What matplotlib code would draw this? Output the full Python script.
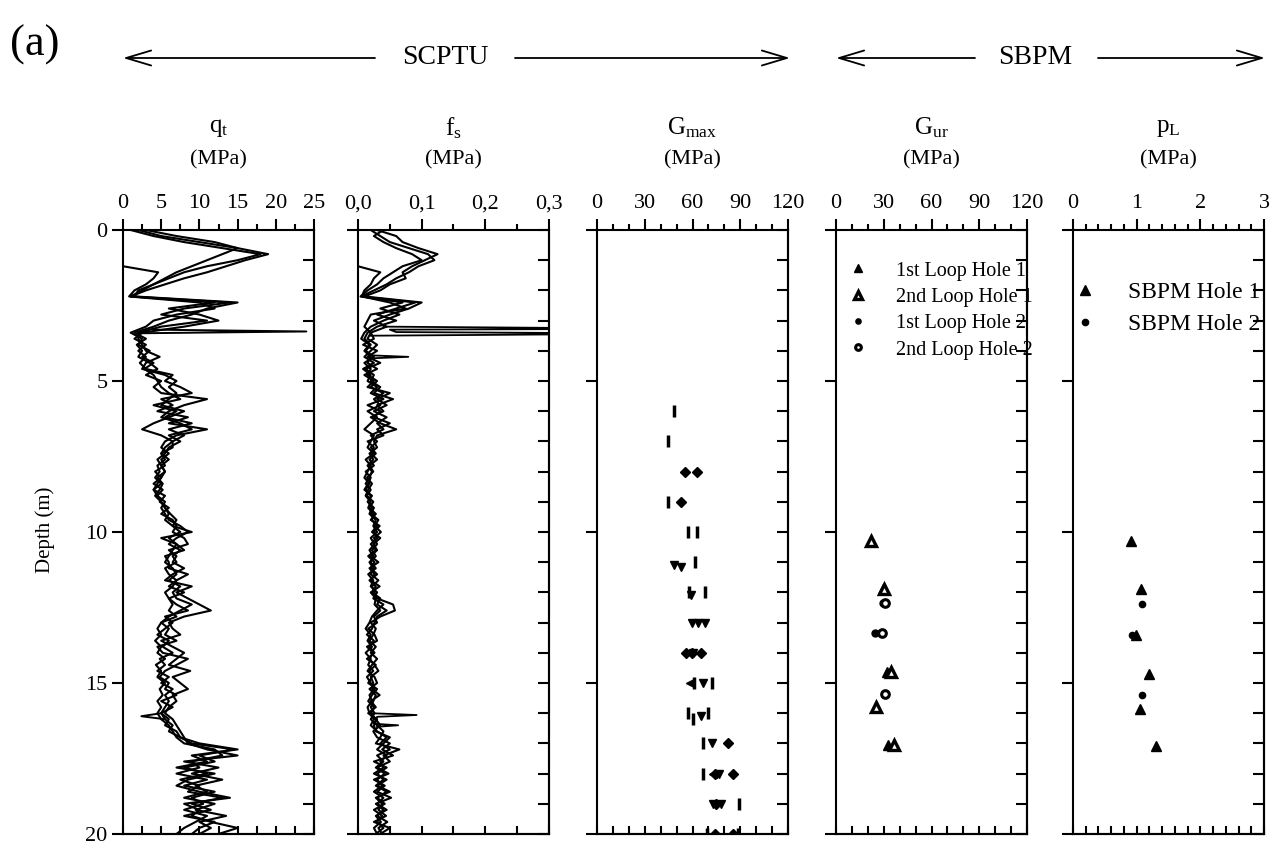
import matplotlib.pyplot as plt
import numpy as np
from matplotlib.ticker import MultipleLocator

plt.rcParams['font.family'] = ['Liberation Serif', 'DejaVu Serif']
plt.rcParams['mathtext.fontset'] = 'custom'
plt.rcParams['mathtext.rm'] = 'Liberation Serif'
plt.rcParams['mathtext.it'] = 'Liberation Serif:italic'

nan = np.nan

# --- SCPTU soundings, depth grid 0..20 m every 0.2 m ---
depth_cpt = np.linspace(0, 20, 101)

qt_A = [2, 5, 10, 15, 19, 16, 13.5, 11, 8, 5.5,
        3, 1, 14, 8, 5, 11, 5, 2, 2, 2.5,
        3, 4.8, 3, 2.5, 5.5, 7, 6, 7, 6, 5,
        8, 6, 4, 2.5, 5, 6.5, 5.5, 5, 5.5, 4.5,
        4.8, 4.2, 5, 4, 4.5, 5, 5.5, 6.2, 7, 6.5,
        7.5, 6, 7, 6.5, 6, 5.5, 6.5, 7, 6, 7.5,
        6.5, 7, 9, 7.5, 6, 5, 4.5, 5, 4.2, 5,
        4.5, 5.5, 4.3, 5, 4.5, 5.5, 4.8, 5.2, 4.5, 5,
        4.5, 5, 6, 6.5, 7, 8, 12, 13, 9, 10,
        7, 11, 8, 12, 9, 10.5, 8, 11, 9.5, 8,
        7]
qt_B = [3, 7, 12, 15, 13, 11, 9, 7, 5.5, 4,
        2, 1.5, 15, 11, 9, 6, 4, 1.5, 3, 1.8,
        2.5, 2, 3.5, 4.5, 3, 5, 4, 5, 11, 8,
        6, 5, 7.5, 9, 6, 7.5, 6, 5.5, 4.5, 5,
        5.5, 5, 4, 5.2, 4.5, 5.5, 5, 5.5, 6, 7.5,
        8.5, 7, 6, 7.5, 6.5, 7, 5.5, 6, 7, 6.5,
        5.5, 6, 7, 8.5, 5.5, 6.5, 5.5, 4.5, 6, 5.2,
        6.5, 4.8, 5.5, 4.5, 6, 5, 6.5, 5.5, 6, 5.5,
        5, 6, 5.5, 7, 7.5, 9, 14.5, 10, 12, 8,
        11, 7.5, 10, 8.5, 13, 9, 11.5, 8, 12, 10,
        9]
qt_C = [1, 4, 8, 13, 18, 15, 11, 8, 6, 4,
        2.5, 1, 12, 6, 10, 12.5, 8, 2.5, 1.5, 3,
        2, 3, 2.2, 3, 6.5, 5.5, 7.5, 9, 5, 6.5,
        4.5, 8.5, 6, 11, 7, 5.5, 5, 6, 5, 5.5,
        4.2, 5, 4.5, 4, 5.5, 4.8, 6, 5, 6.5, 7,
        6.5, 8, 8.5, 6, 7, 6.5, 8, 6.5, 5.5, 9,
        7, 8.5, 10, 11.5, 8, 6, 6.5, 7.5, 5, 6.5,
        8, 7, 6, 8.8, 6.5, 7.5, 8.5, 6.5, 7, 6,
        5.5, 6.5, 7, 7.5, 8, 8.5, 11, 15, 8, 12.5,
        9, 13, 9.5, 11, 8, 12, 9.5, 13.5, 10, 11.5,
        10]
qt_D = [nan, nan, nan, nan, nan, nan, 0, 4.6, 4, 3,
        1.5, 0.8, 10, 12, 7, 4, 3, 1, 2.5, 2,
        3.5, 2.5, 4, 2.8, 4, 4.5, 5, 6, 7.5, 4,
        7, 5.5, 9, 6, 8, 6.5, 6.5, 5, 6, 5,
        5.5, 4.5, 5.2, 4.8, 4.2, 5, 5.5, 6, 5.5, 6.5,
        9, 5, 7, 8, 5.5, 6, 6, 8.5, 7, 6,
        8, 6, 6.5, 6, 7, 5, 6, 5.5, 7, 4.5,
        5.2, 8.5, 7, 5.5, 4.8, 6, 5.5, 7, 5, 6.5,
        5, 5.5, 6.5, 6, 7.5, 10, 15, 9, 11, 7,
        12, 8.5, 7, 10, 14, 8, 10, 9, 11.5, 15,
        12.5]
qt_spike_depth = [3.30, 3.36, 3.42]
qt_spike = [4.0, 24.0, 2.0]
qt_dip_depth = [16.0, 16.1, 16.2]
qt_dip = [5.0, 2.4, 5.5]

fs_A = [0.02, 0.035, 0.05, 0.08, 0.11, 0.12, 0.095, 0.08, 0.06, 0.045,
        0.025, 0.005, 0.09, 0.06, 0.03, 0.06, 0.03, 0.015, 0.01, 0.02,
        0.012, 0.025, 0.01, 0.02, 0.015, 0.03, 0.02, 0.04, 0.025, 0.035,
        0.015, 0.03, 0.02, 0.01, 0.025, 0.02, 0.015, 0.025, 0.012, 0.02,
        0.015, 0.01, 0.018, 0.012, 0.02, 0.016, 0.022, 0.018, 0.028, 0.024,
        0.03, 0.02, 0.026, 0.018, 0.024, 0.02, 0.028, 0.016, 0.024, 0.02,
        0.03, 0.024, 0.04, 0.03, 0.022, 0.018, 0.012, 0.02, 0.015, 0.022,
        0.012, 0.02, 0.016, 0.024, 0.014, 0.02, 0.026, 0.018, 0.022, 0.015,
        0.018, 0.025, 0.02, 0.03, 0.045, 0.035, 0.05, 0.03, 0.04, 0.028,
        0.042, 0.03, 0.038, 0.025, 0.04, 0.03, 0.045, 0.028, 0.036, 0.025,
        0.03]
fs_B = [0.03, 0.06, 0.07, 0.095, 0.125, 0.105, 0.085, 0.07, 0.075, 0.05,
        0.035, 0.01, 0.1, 0.08, 0.05, 0.025, 0.045, 0.02, 0.025, 0.008,
        0.03, 0.015, 0.035, 0.012, 0.025, 0.02, 0.035, 0.025, 0.055, 0.03,
        0.04, 0.02, 0.035, 0.06, 0.03, 0.025, 0.03, 0.018, 0.024, 0.015,
        0.022, 0.018, 0.012, 0.02, 0.014, 0.024, 0.018, 0.028, 0.02, 0.034,
        0.025, 0.03, 0.02, 0.028, 0.016, 0.026, 0.02, 0.03, 0.018, 0.028,
        0.022, 0.035, 0.03, 0.045, 0.03, 0.026, 0.022, 0.014, 0.025, 0.018,
        0.026, 0.014, 0.028, 0.018, 0.022, 0.016, 0.03, 0.022, 0.016, 0.025,
        0.02, 0.028, 0.035, 0.024, 0.03, 0.05, 0.038, 0.055, 0.025, 0.045,
        0.03, 0.04, 0.028, 0.045, 0.03, 0.042, 0.025, 0.038, 0.03, 0.04,
        0.028]
fs_C = [0.04, 0.025, 0.04, 0.06, 0.085, 0.1, 0.07, 0.055, 0.04, 0.03,
        0.015, 0.004, 0.07, 0.035, 0.065, 0.04, 0.02, 0.01, 0.005, 0.018,
        0.01, 0.02, 0.015, 0.03, 0.01, 0.025, 0.015, 0.05, 0.03, 0.045,
        0.025, 0.045, 0.03, 0.04, 0.02, 0.03, 0.02, 0.028, 0.018, 0.025,
        0.012, 0.02, 0.016, 0.01, 0.022, 0.015, 0.025, 0.02, 0.032, 0.026,
        0.036, 0.025, 0.03, 0.022, 0.028, 0.018, 0.024, 0.02, 0.032, 0.022,
        0.026, 0.03, 0.055, 0.058, 0.035, 0.02, 0.028, 0.024, 0.018, 0.028,
        0.02, 0.03, 0.022, 0.015, 0.026, 0.03, 0.018, 0.028, 0.024, 0.02,
        0.026, 0.02, 0.03, 0.04, 0.035, 0.028, 0.065, 0.04, 0.05, 0.03,
        0.048, 0.025, 0.042, 0.03, 0.052, 0.028, 0.04, 0.03, 0.046, 0.032,
        0.038]
fs_D = [nan, nan, nan, nan, nan, nan, 0.0, 0.035, 0.025, 0.02,
        0.01, 0.006, 0.05, 0.075, 0.02, 0.015, 0.01, 0.02, 0.015, 0.03,
        0.02, 0.01, 0.025, 0.008, 0.02, 0.015, 0.03, 0.02, 0.04, 0.015,
        0.035, 0.025, 0.05, 0.03, 0.04, 0.015, 0.025, 0.02, 0.03, 0.018,
        0.024, 0.014, 0.022, 0.016, 0.012, 0.02, 0.016, 0.024, 0.022, 0.03,
        0.022, 0.035, 0.024, 0.03, 0.02, 0.032, 0.018, 0.026, 0.02, 0.034,
        0.02, 0.028, 0.026, 0.035, 0.025, 0.03, 0.016, 0.026, 0.03, 0.014,
        0.024, 0.018, 0.026, 0.032, 0.02, 0.024, 0.022, 0.034, 0.02, 0.028,
        0.016, 0.03, 0.025, 0.028, 0.05, 0.04, 0.03, 0.045, 0.035, 0.04,
        0.025, 0.045, 0.03, 0.05, 0.028, 0.038, 0.032, 0.044, 0.025, 0.05,
        0.035]
fs_spike_depth = [3.20, 3.27, 3.30, 3.38, 3.43, 3.50]
fs_spike = [0.04, 0.5, 0.05, 0.06, 0.5, 0.02]
fs_spike2_depth = [4.15, 4.20, 4.25]
fs_spike2 = [0.02, 0.079, 0.02]
fs_spike3_depth = [16.0, 16.06, 16.12, 16.35, 16.40, 16.45]
fs_spike3 = [0.02, 0.092, 0.03, 0.025, 0.063, 0.03]

# --- seismic Gmax (MPa) ---
gmax_bar_depth = [6.0, 7.0, 9.0, 10.0, 10.0, 11.0, 12.0, 12.0, 15.0, 15.0,
                  16.0, 16.2, 16.0, 17.0, 18.0, 19.0, 20.0, 20.0]
gmax_bar = [48.6, 44.8, 44.8, 57.4, 62.6, 61.6, 57.5, 67.8, 60.8, 72.2,
            57.2, 60.4, 70.0, 66.6, 66.6, 89.0, 69.0, 88.5]
gmax_dia_depth = [8.0, 8.0, 9.0, 14.0, 14.0, 14.0, 17.0, 18.0, 18.0, 19.0, 20.0, 20.0]
gmax_dia = [55.3, 62.6, 52.6, 56.0, 59.5, 65.5, 82.3, 74.0, 85.5, 74.5, 74.0, 85.4]
gmax_tri_depth = [11.1, 11.15, 12.1, 13.0, 13.0, 13.0, 14.0, 15.0, 16.1, 17.0, 18.0, 19.0, 19.0]
gmax_tri = [48.5, 52.5, 59.0, 59.5, 63.5, 68.0, 60.0, 66.6, 65.6, 72.0, 76.5, 73.0, 78.0]
gmax_left_depth = [15.0, 18.0]
gmax_left = [58.4, 73.0]

# --- SBPM unload-reload modulus (MPa) ---
gur_1st_h1_depth = [10.3, 11.9, 14.65, 17.05]
gur_1st_h1 = [21.8, 29.8, 31.8, 32.4]
gur_2nd_h1_depth = [10.3, 11.9, 14.65, 15.8, 17.05]
gur_2nd_h1 = [22.3, 30.2, 34.3, 25.3, 36.2]
gur_1st_h2_depth = [12.35, 13.35]
gur_1st_h2 = [29.3, 24.8]
gur_2nd_h2_depth = [12.35, 13.35, 15.35]
gur_2nd_h2 = [31.0, 29.0, 30.5]

# --- SBPM limit pressure (MPa) ---
pl_h1_depth = [10.3, 11.9, 13.4, 14.7, 15.85, 17.1]
pl_h1 = [0.91, 1.07, 0.99, 1.20, 1.05, 1.31]
pl_h2_depth = [12.4, 13.4, 15.4]
pl_h2 = [1.08, 0.93, 1.09]

titles = [r'q$_\mathrm{t}$', r'f$_\mathrm{s}$', r'G$_\mathrm{max}$', r'G$_\mathrm{ur}$', r'p$_\mathrm{L}$']
xlims = [(0, 25), (0, 0.3), (0, 120), (0, 120), (0, 3)]
major_ticks = [[0, 5, 10, 15, 20, 25], [0, 0.1, 0.2, 0.3], [0, 30, 60, 90, 120],
               [0, 30, 60, 90, 120], [0, 1, 2, 3]]
tick_labels = [['0', '5', '10', '15', '20', '25'], ['0,0', '0,1', '0,2', '0,3'],
               ['0', '30', '60', '90', '120'], ['0', '30', '60', '90', '120'],
               ['0', '1', '2', '3']]
minor_steps = [2.5, 0.05, 10, 10, 0.2]
depth_ticks = [0, 5, 10, 15, 20]

W, H = 1286, 849
fig = plt.figure(figsize=(W / 100, H / 100), dpi=100)
lefts = [123, 358, 597, 836, 1073]
axes = []
for i, l in enumerate(lefts):
    ax = fig.add_axes([l / W, 1 - 834 / H, 191 / W, 604 / H])
    axes.append(ax)
    ax.set_xlim(*xlims[i])
    ax.set_ylim(20, 0)
    for s in ax.spines.values():
        s.set_linewidth(1.5)
    ax.xaxis.set_ticks_position('top')
    ax.set_xticks(major_ticks[i])
    ax.set_xticklabels(tick_labels[i])
    ax.xaxis.set_minor_locator(MultipleLocator(minor_steps[i]))
    ax.tick_params(axis='x', which='major', direction='out', length=8, width=1.5,
                   top=True, bottom=False, labeltop=True, labelbottom=False,
                   labelsize=16, pad=4)
    ax.tick_params(axis='x', which='minor', direction='out', length=4, width=1.5,
                   top=True, bottom=False)
    ax.set_yticks(depth_ticks)
    ax.tick_params(axis='y', which='major', direction='out', length=8, width=1.5,
                   left=True, right=False, labelleft=(i == 0), labelsize=16, pad=3)
    # inward ticks on the bottom and right edges
    bx = ax.secondary_xaxis('bottom')
    lo, hi = xlims[i]
    n = int(round((hi - lo) / minor_steps[i]))
    bx.set_xticks([lo + k * minor_steps[i] for k in range(n + 1)])
    bx.tick_params(direction='in', length=6, width=1.5, labelbottom=False)
    bx.spines['bottom'].set_linewidth(1.5)
    ry = ax.secondary_yaxis('right')
    ry.set_yticks(list(range(0, 21)))
    ry.tick_params(direction='in', length=8, width=1.5, labelright=False)
    ry.spines['right'].set_linewidth(1.5)
    cx = (l + 95.5) / W
    fig.text(cx, 1 - 128 / H, titles[i], ha='center', va='center', fontsize=18)
    fig.text(cx, 1 - 160 / H, '(MPa)', ha='center', va='center', fontsize=16)

# qt
ax = axes[0]
for tr in [qt_A, qt_B, qt_C, qt_D]:
    ax.plot(tr, depth_cpt, color='black', lw=1.5)
ax.plot(qt_spike, qt_spike_depth, color='black', lw=1.4)
ax.plot(qt_dip, qt_dip_depth, color='black', lw=1.4)

# fs
ax = axes[1]
for tr in [fs_A, fs_B, fs_C, fs_D]:
    ax.plot(tr, depth_cpt, color='black', lw=1.5)
for xs, ds in [(fs_spike, fs_spike_depth), (fs_spike2, fs_spike2_depth), (fs_spike3, fs_spike3_depth)]:
    ax.plot(xs, ds, color='black', lw=1.3)

# Gmax
ax = axes[2]
ax.plot(gmax_bar, gmax_bar_depth, ls='none', marker='|', ms=8, mew=2.5, color='black')
ax.plot(gmax_dia, gmax_dia_depth, ls='none', marker='D', ms=5, color='black')
ax.plot(gmax_tri, gmax_tri_depth, ls='none', marker='v', ms=6, color='black')
ax.plot(gmax_left, gmax_left_depth, ls='none', marker='<', ms=6, color='black')

# Gur
ax = axes[3]
ax.plot(gur_1st_h1, gur_1st_h1_depth, ls='none', marker='^', ms=7, color='black',
        label='1st Loop Hole 1')
ax.plot(gur_2nd_h1, gur_2nd_h1_depth, ls='none', marker='^', ms=7, mfc='white',
        mec='black', mew=2.4, label='2nd Loop Hole 1')
ax.plot(gur_1st_h2, gur_1st_h2_depth, ls='none', marker='o', ms=5, color='black',
        label='1st Loop Hole 2')
ax.plot(gur_2nd_h2, gur_2nd_h2_depth, ls='none', marker='o', ms=5.5, mfc='white',
        mec='black', mew=2.2, label='2nd Loop Hole 2')
ax.legend(loc='upper left', bbox_to_anchor=(0.06, 0.948), frameon=False, fontsize=14.5,
          handlelength=1.0, handletextpad=1.4, labelspacing=0.36, borderpad=0,
          borderaxespad=0, markerscale=0.75)

# pL
ax = axes[4]
ax.plot(pl_h1, pl_h1_depth, ls='none', marker='^', ms=7, color='black', label='SBPM Hole 1')
ax.plot(pl_h2, pl_h2_depth, ls='none', marker='o', ms=4.5, color='black', label='SBPM Hole 2')
ax.legend(loc='upper left', bbox_to_anchor=(0.0, 0.915), frameon=False, fontsize=17,
          handlelength=1.0, handletextpad=1.35, labelspacing=0.45, borderpad=0,
          borderaxespad=0)

# header
fig.text(10 / W, 1 - 45 / H, '(a)', ha='left', va='center', fontsize=32)
yh = 1 - 58 / H
fig.text(445 / W, yh, 'SCPTU', ha='center', va='center', fontsize=20)
fig.text(1035 / W, yh, 'SBPM', ha='center', va='center', fontsize=20)
arrows = [(375, 123), (515, 790), (975, 836), (1098, 1265)]
for x0, x1 in arrows:
    axes[0].annotate('', xy=(x1 / W, yh), xytext=(x0 / W, yh), xycoords='figure fraction',
                     textcoords='figure fraction', annotation_clip=False,
                     arrowprops=dict(arrowstyle='->,head_length=1.0,head_width=0.3',
                                     lw=1.3, color='black', mutation_scale=18,
                                     shrinkA=0, shrinkB=0))

fig.text(45 / W, 1 - 530 / H, 'Depth (m)', rotation=90, ha='center', va='center', fontsize=15)

fig.savefig('out.png', dpi=100)
